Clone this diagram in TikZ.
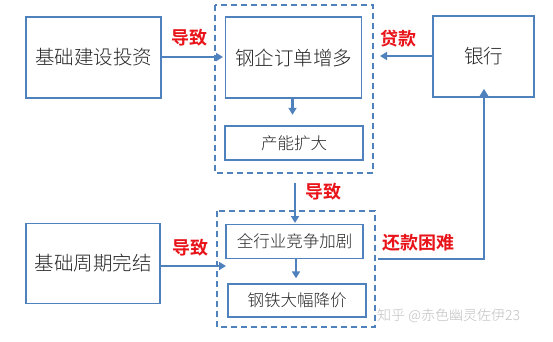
\documentclass[tikz,border=0pt]{standalone}
\usepackage{fontspec}
\setmainfont{Noto Sans CJK SC}[UprightFont={* Light}, BoldFont={* Bold}]
\usetikzlibrary{arrows.meta}
\definecolor{ob}{HTML}{4F81BD}
\definecolor{lr}{HTML}{E8141A}
\tikzset{
  box/.style={draw=ob, line width=1.6pt, fill=white, inner sep=0pt, text=black!85},
  group/.style={draw=ob, line width=1.6pt, dash pattern=on 6pt off 4pt},
  arr/.style={draw=ob, line width=2.2pt, -{Triangle[length=7pt,width=8pt]}},
  lab/.style={text=lr, font=\fontsize{18}{18}\selectfont\bfseries, inner sep=0pt},
}
\begin{document}
\begin{tikzpicture}[x=1pt,y=-1pt]
\useasboundingbox (0,0) rectangle (553,341);
% dashed groups
\draw[group] (215,5) rectangle (373,173);
\draw[group] (217,211) rectangle (375,327);
% boxes
\node[box, minimum width=135pt, minimum height=81pt, font=\fontsize{19.5}{19.5}\selectfont] (jc) at (93.5,57.5) {基础建设投资};
\node[box, minimum width=136pt, minimum height=81pt, font=\fontsize{19.5}{19.5}\selectfont] (dd) at (293.5,57.5) {钢企订单增多};
\node[box, minimum width=138pt, minimum height=34pt, font=\fontsize{16.5}{16.5}\selectfont] (cn) at (294,143) {产能扩大};
\node[box, minimum width=101pt, minimum height=81pt, font=\fontsize{19.5}{19.5}\selectfont] (yh) at (483.5,56.5) {银行};
\node[box, minimum width=134pt, minimum height=80pt, font=\fontsize{19.5}{19.5}\selectfont] (zq) at (93,263.5) {基础周期完结};
\node[box, minimum width=137pt, minimum height=34pt, font=\fontsize{16.5}{16.5}\selectfont] (jz) at (294.5,241.5) {全行业竞争加剧};
\node[box, minimum width=138pt, minimum height=33pt, font=\fontsize{16.5}{16.5}\selectfont] (jj) at (297,300.5) {钢铁大幅降价};
% anchor coordinates on dashed groups
\coordinate (g1r) at (380,56);
\coordinate (g1l) at (223,57);
\coordinate (g1b) at (295,183);
\coordinate (g2t) at (295,223);
\coordinate (g2l) at (226,266);
\coordinate (g2r) at (378,259);
\coordinate (corner) at (484,259);
% arrows
\draw[arr] (jc.east |- g1l) -- (g1l);
\draw[arr] (yh.west |- g1r) -- (g1r);
\draw[arr] ([xshift=-1pt]dd.south) -- ++(0,16);
\draw[arr] (g1b) -- (g2t);
\draw[arr] (zq.east |- g2l) -- (g2l);
\draw[arr] ([xshift=1.5pt]jz.south) -- ++(0,19);
\draw[arr] (g2r) -- (corner) -- ([yshift=9pt]corner |- yh.south);
% labels
\node[lab] (l1) at (189,38) {导致};
\node[lab] (l2) at (398,39) {贷款};
\node[lab] (l3) at (323,192) {导致};
\node[lab] (l4) at (190,248) {导致};
\node[lab] (l5) at (418,243) {还款困难};
% watermark
\node[text=black!25, font=\fontsize{14}{14}\selectfont, anchor=west, inner sep=0pt] (wm) at (377,316) {知乎 @赤色幽灵佐伊23};
\end{tikzpicture}
\end{document}
